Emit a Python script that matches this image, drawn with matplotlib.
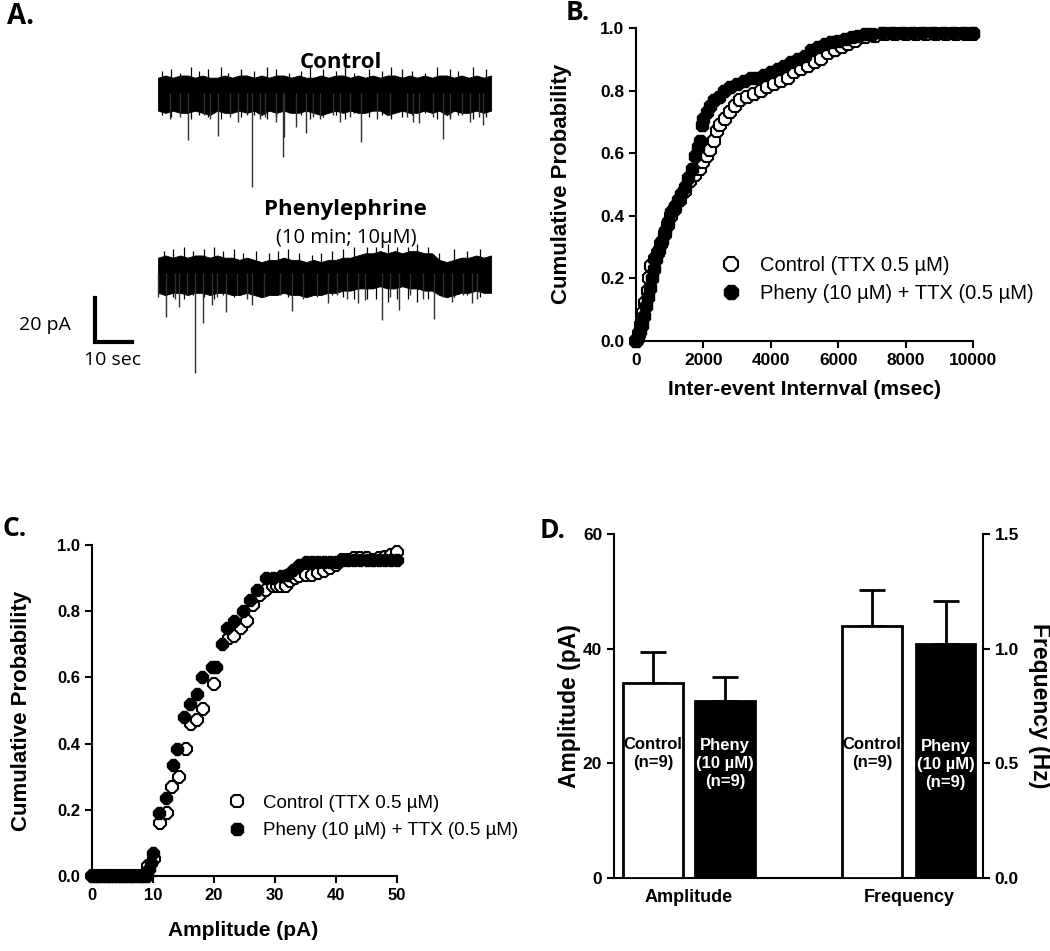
import numpy as np
import matplotlib
matplotlib.use("Agg")
import matplotlib.pyplot as plt
from matplotlib.lines import Line2D
from matplotlib.ticker import FormatStrFormatter

plt.rcParams['font.family'] = ['Liberation Sans', 'DejaVu Sans']
plt.rcParams['font.weight'] = 'bold'
plt.rcParams['axes.linewidth'] = 1.5

# ---- panel A: example traces (sec, pA) ----
env_step = 2.0
ctrl_top = [7, 8, 7, 8, 8, 7, 8, 7, 7, 8, 7, 8, 8, 7, 8, 7, 8, 8, 7, 8, 7, 7, 8,
            7, 8, 8, 7, 8, 7, 8, 7, 8, 8, 7, 8, 7, 8, 7, 8, 8, 7, 8, 7, 8, 7, 8]
ctrl_bot = [-8, -9, -8, -9, -9, -8, -9, -10, -8, -9, -9, -8, -9, -8, -10, -8, -9, -8, -9, -9,
            -8, -9, -10, -9, -8, -9, -8, -9, -9, -8, -8, -10, -9, -8, -9, -9, -8, -9, -8, -10,
            -8, -9, -9, -8, -9, -8]
pheny_top = [7, 8, 7, 8, 7, 8, 8, 7, 8, 7, 7, 6, 7, 6, 5, 6, 6, 7, 6, 6, 5, 6, 5,
             6, 6, 7, 7, 8, 9, 9, 10, 9, 10, 9, 10, 10, 9, 9, 6, 5, 6, 7, 7, 8, 7, 8]
pheny_bot = [-9, -10, -9, -9, -10, -9, -9, -10, -9, -9, -10, -10, -9, -10, -11, -10, -10, -9,
             -10, -10, -11, -10, -10, -9, -9, -8, -8, -7, -7, -7, -6, -7, -7, -6, -7, -7, -8,
             -8, -10, -11, -10, -9, -9, -8, -9, -9]

# noise hairs (time, half-height)
ctrl_hair_t = [1, 3.5, 6, 9, 11, 13.5, 17, 19, 22.5, 26, 29.5, 32, 35.5, 38.5, 41, 44.5, 48,
               50.5, 53, 57, 60.5, 63, 66, 68.5, 72, 75.5, 79, 81, 85, 88.5]
ctrl_hair_h = [10, 11, 9, 12, 10, 11, 12, 9, 11, 10, 12, 11, 9, 10, 12, 11, 10, 12, 9, 11,
               10, 12, 11, 10, 9, 12, 11, 10, 12, 11]
pheny_hair_t = [1.5, 4, 7, 9.5, 12.5, 15, 17.5, 20.5, 23, 26.5, 30, 32.5, 35, 38, 41.5, 44,
                47, 50, 53, 56.5, 59, 62, 64.5, 67.5, 70, 73, 76, 80, 83.5, 87]
pheny_hair_h = [10, 11, 12, 10, 11, 12, 10, 11, 9, 10, 9, 10, 11, 9, 8, 9, 10, 11, 12, 12,
                12, 13, 12, 12, 13, 12, 9, 11, 10, 11]

ctrl_ev_t = [3.2, 5.9, 8.0, 12.3, 14.1, 16.2, 19.5, 21.7, 24.0, 25.3, 27.6, 28.9, 31.9, 33.7,
             34.1, 37.3, 40.0, 42.0, 43.8, 47.4, 49.2, 51.9, 54.8, 59.1, 62.7, 67.2, 69.0,
             70.5, 74.4, 76.9, 78.9, 82.1, 84.3, 86.6, 87.8]
ctrl_ev_amp = [12, 11, 21.4, 10, 12, 19.5, 11, 13, 10, 42.6, 12, 11, 13, 29.1,
               19.9, 15.3, 18.2, 11, 12, 10, 13, 11, 22.1, 12, 10, 11, 13,
               13.6, 11, 20.9, 12, 10, 13, 11, 14.5]
pheny_ev_t = [0.1, 2.1, 4.6, 5.7, 7.8, 10.0, 12.2, 14.5, 15.9, 18.4, 21.3, 24.0, 25.3, 28.5,
              33.0, 36.1, 39.3, 42.9, 46.0, 48.3, 51.0, 53.9, 55.9, 60.5, 62.7, 65.2, 68.1,
              71.7, 74.6, 77.1, 79.4, 82.5, 84.8, 86.1]
pheny_ev_amp = [11, 19.9, 12, 15.3, 10, 45.5, 22.7, 14.5, 11, 17.6, 10, 12, 14.5, 11,
                10, 17.3, 12, 11, 13.8, 10, 12, 13.5, 12.3, 21.4, 11, 16.8, 10,
                12, 20.9, 11, 13, 10, 13.8, 12]
pheny_offset = -81.8

# ---- panel B: inter-event interval cumulative (msec, prob) ----
b_ctrl_x = [0, 80, 150, 220, 280, 350, 400, 450, 550, 650, 750, 850, 950, 1050, 1150, 1300,
            1450, 1600, 1750, 1900, 2000, 2100, 2200, 2300, 2400, 2500, 2650, 2800, 2950, 3100,
            3300, 3500, 3700, 3900, 4100, 4300, 4500, 4700, 4900, 5100, 5300, 5500, 5700, 5900,
            6100, 6300, 6500, 6800, 7100, 7400, 7700, 8000, 8300, 8600, 8900, 9200, 9500, 9800,
            10000]
b_ctrl_y = [0.0, 0.02, 0.05, 0.09, 0.12, 0.16, 0.20, 0.24, 0.26, 0.28, 0.31, 0.34, 0.37, 0.40,
            0.42, 0.45, 0.48, 0.51, 0.53, 0.55, 0.57, 0.59, 0.61, 0.64, 0.67, 0.69, 0.71, 0.73,
            0.75, 0.77, 0.78, 0.79, 0.80, 0.81, 0.82, 0.83, 0.84, 0.86, 0.87, 0.88, 0.89, 0.90,
            0.92, 0.93, 0.94, 0.95, 0.96, 0.97, 0.975, 0.98, 0.98, 0.98, 0.98, 0.98, 0.98, 0.98,
            0.98, 0.98, 0.98]
b_pheny_x = [0, 60, 120, 180, 240, 300, 350, 420, 480, 540, 600, 680, 760, 850, 950, 1050,
             1150, 1250, 1350, 1450, 1550, 1650, 1750, 1850, 1900, 1950, 2000, 2100, 2200, 2300,
             2450, 2600, 2800, 3000, 3200, 3400, 3600, 3800, 4000, 4200, 4400, 4600, 4800, 5000,
             5200, 5400, 5600, 5800, 6000, 6200, 6400, 6600, 6800, 7000, 7300, 7600, 7900, 8200,
             8500, 8800, 9100, 9400, 9700, 10000]
b_pheny_y = [0.0, 0.01, 0.03, 0.05, 0.08, 0.11, 0.14, 0.17, 0.20, 0.23, 0.26, 0.29, 0.32, 0.35,
             0.38, 0.41, 0.43, 0.45, 0.47, 0.49, 0.52, 0.55, 0.59, 0.62, 0.64, 0.69, 0.71, 0.73,
             0.75, 0.77, 0.78, 0.80, 0.81, 0.82, 0.83, 0.84, 0.84, 0.85, 0.86, 0.87, 0.88, 0.89,
             0.90, 0.91, 0.93, 0.94, 0.95, 0.955, 0.96, 0.965, 0.97, 0.975, 0.98, 0.98, 0.985,
             0.985, 0.985, 0.985, 0.985, 0.985, 0.985, 0.985, 0.985, 0.985]

# ---- panel C: amplitude cumulative (pA, prob) ----
c_ctrl_x = [0, 0.6, 1.2, 1.8, 2.4, 3.0, 3.6, 4.2, 4.8, 5.4, 6.0, 6.6, 7.2, 7.8, 8.4, 9.0, 9.2,
            10.1, 11.1, 12.3, 13.1, 14.2, 15.4, 16.2, 17.2, 18.2, 20.0, 22.4, 23.2, 24.5, 25.4,
            26.4, 27.5, 28.6, 29.7, 30.3, 31.0, 31.8, 32.5, 33.3, 34.0, 35.0, 36.0, 37.0, 38.0,
            39.0, 40.0, 41.0, 42.0, 43.0, 44.0, 45.0, 46.0, 47.0, 48.0, 49.0, 50.0]
c_ctrl_y = [0, 0, 0, 0, 0, 0, 0, 0, 0, 0, 0, 0, 0, 0, 0, 0.01, 0.03,
            0.05, 0.16, 0.19, 0.27, 0.30, 0.385, 0.46, 0.47, 0.505, 0.58, 0.72, 0.725, 0.75, 0.77,
            0.82, 0.85, 0.865, 0.875, 0.875, 0.875, 0.875, 0.89, 0.90, 0.905, 0.91, 0.91, 0.915,
            0.92, 0.93, 0.94, 0.955, 0.955, 0.96, 0.96, 0.96, 0.955, 0.96, 0.965, 0.97, 0.98]
c_pheny_x = [0, 0.6, 1.2, 1.8, 2.4, 3.0, 3.6, 4.2, 4.8, 5.4, 6.0, 6.6, 7.2, 7.8, 8.4, 9.0, 9.3,
             9.7, 10.05, 11.0, 12.2, 13.2, 14.0, 15.0, 16.1, 17.2, 18.0, 19.6, 20.4, 21.3, 22.1,
             23.2, 24.8, 25.9, 27.0, 28.6, 29.7, 31.0, 32.0, 33.0, 34.0, 35.0, 36.0, 37.0, 38.0,
             39.0, 40.0, 41.0, 42.0, 43.0, 44.0, 45.0, 46.0, 47.0, 48.0, 49.0, 50.0]
c_pheny_y = [0, 0, 0, 0, 0, 0, 0, 0, 0, 0, 0, 0, 0, 0, 0, 0, 0.02,
             0.04, 0.07, 0.19, 0.235, 0.335, 0.385, 0.48, 0.52, 0.55, 0.60, 0.63, 0.63, 0.70, 0.75,
             0.77, 0.80, 0.835, 0.865, 0.90, 0.90, 0.905, 0.91, 0.925, 0.94, 0.95, 0.95, 0.95, 0.95,
             0.95, 0.95, 0.955, 0.955, 0.955, 0.955, 0.955, 0.955, 0.955, 0.955, 0.955, 0.955]

# ---- panel D: bar summary ----
groups = ['Amplitude', 'Frequency']
amp_mean = [34.0, 30.9]
amp_sem = [5.4, 4.2]
freq_mean = [1.10, 1.02]
freq_sem = [0.155, 0.19]
bar_colors = ['white', 'black']
bar_labels = ['Control\n(n=9)', 'Pheny\n(10 \u00b5M)\n(n=9)']
label_colors = ['black', 'white']

legend_labels = ['Control (TTX 0.5 \u00b5M)', 'Pheny (10 \u00b5M) + TTX (0.5 \u00b5M)']

W, H = 1050, 951
fig = plt.figure(figsize=(W / 100, H / 100), dpi=100)


def px_axes(x0, y0, x1, y1):
    return fig.add_axes([x0 / W, 1 - y1 / H, (x1 - x0) / W, (y1 - y0) / H])


# ---------------- A ----------------
ax = px_axes(0, 0, 520, 400)
ax.set_xlim(-42.7, 97.8)
ax.set_ylim(-139.5, 42.3)
ax.axis('off')
t_env = np.arange(len(ctrl_top)) * env_step
ax.fill_between(t_env, ctrl_bot, ctrl_top, color='black', lw=0.6)
ax.vlines(ctrl_hair_t, -np.array(ctrl_hair_h), ctrl_hair_h, color='black', lw=0.9)
ax.vlines(ctrl_ev_t, 0, -np.array(ctrl_ev_amp), color='#303030', lw=1.0)
ax.fill_between(t_env, np.array(pheny_bot) + pheny_offset, np.array(pheny_top) + pheny_offset,
                color='black', lw=0.6)
ph = np.array(pheny_hair_h)
ax.vlines(pheny_hair_t, pheny_offset - ph, pheny_offset + ph, color='black', lw=0.9)
ax.vlines(pheny_ev_t, pheny_offset, pheny_offset - np.array(pheny_ev_amp), color='#303030', lw=1.0)
tfam = ['Open Sans', 'DejaVu Sans']
ax.text(49.5, 14.1, 'Control', ha='center', va='center', fontsize=16, fontweight='bold', family=tfam)
ax.text(50.5, -52.7, 'Phenylephrine', ha='center', va='center', fontsize=16, fontweight='bold', family=tfam)
ax.text(51, -65.9, '(10 min; 10\u00b5M)', ha='center', va='center', fontsize=14.5, fontweight='normal', family=tfam)
# scale bar: 20 pA x 10 sec
ax.plot([-17, -17, -7], [-93.2, -113.2, -113.2], color='black', lw=3, solid_joinstyle='miter')
ax.text(-30.5, -105.5, '20 pA', ha='center', va='center', fontsize=14, fontweight='normal', family=tfam)
ax.text(-12.2, -121.4, '10 sec', ha='center', va='center', fontsize=14, fontweight='normal', family=tfam)


def style_cum(ax):
    for s in ['top', 'right']:
        ax.spines[s].set_visible(False)
    ax.tick_params(direction='out', length=5, width=1.5, labelsize=12.5)
    ax.yaxis.set_major_formatter(FormatStrFormatter('%.1f'))


ctrl_style = dict(marker='8', ls='none', mfc='white', mec='black', mew=1.5, color='black', clip_on=False)
pheny_style = dict(marker='8', ls='none', mfc='black', mec='black', color='black', clip_on=False)

# ---------------- B ----------------
axb = px_axes(636, 28, 973, 340.7)
axb.plot(b_ctrl_x, b_ctrl_y, ms=10, **ctrl_style)
axb.plot(b_pheny_x, b_pheny_y, ms=10, **pheny_style)
axb.set_xlim(0, 10000)
axb.set_ylim(0, 1.0)
axb.set_xticks(range(0, 10001, 2000))
axb.set_yticks(np.arange(0, 1.01, 0.2))
style_cum(axb)
axb.set_xlabel('Inter-event Internval (msec)', fontsize=15, fontweight='bold')
axb.xaxis.set_label_coords(0.5, -0.125)
axb.set_ylabel('Cumulative Probability', fontsize=16, fontweight='bold')
axb.yaxis.set_label_coords(-0.19, 0.5)
hb = [Line2D([], [], ms=11, **ctrl_style), Line2D([], [], ms=11, **pheny_style)]
axb.legend(hb, legend_labels, loc='upper left', bbox_to_anchor=(0.252, 0.272), frameon=False,
           prop={'size': 14.5, 'weight': 'normal'}, handlelength=1.0, handletextpad=0.95,
           labelspacing=0.45, borderpad=0, borderaxespad=0)

# ---------------- C ----------------
axc = px_axes(92, 545, 397, 876)
axc.plot(c_ctrl_x, c_ctrl_y, ms=9, **ctrl_style)
axc.plot(c_pheny_x, c_pheny_y, ms=9, **pheny_style)
axc.set_xlim(0, 50)
axc.set_ylim(0, 1.0)
axc.set_xticks(range(0, 51, 10))
axc.set_yticks(np.arange(0, 1.01, 0.2))
style_cum(axc)
axc.tick_params(labelsize=12)
axc.set_xlabel('Amplitude (pA)', fontsize=15, fontweight='bold')
axc.xaxis.set_label_coords(0.495, -0.135)
axc.set_ylabel('Cumulative Probability', fontsize=16, fontweight='bold')
axc.yaxis.set_label_coords(-0.197, 0.5)
hc = [Line2D([], [], ms=10, **ctrl_style), Line2D([], [], ms=10, **pheny_style)]
axc.legend(hc, legend_labels, loc='upper left', bbox_to_anchor=(0.445, 0.245), frameon=False,
           prop={'size': 13.5, 'weight': 'normal'}, handlelength=1.0, handletextpad=0.88,
           labelspacing=0.55, borderpad=0, borderaxespad=0)

# ---------------- D ----------------
axd = px_axes(614, 534, 983, 878)
axd2 = axd.twinx()
amp_x = [0, 1]
freq_x = [3.04, 4.06]
bw = 0.83
axd.bar(amp_x, amp_mean, width=bw, color=bar_colors, edgecolor='black', lw=2, zorder=3)
axd.errorbar(amp_x, amp_mean, yerr=[[0, 0], amp_sem], fmt='none', ecolor='black',
             elinewidth=2, capsize=9.5, capthick=2, zorder=2)
axd2.bar(freq_x, freq_mean, width=bw, color=bar_colors, edgecolor='black', lw=2, zorder=3)
axd2.errorbar(freq_x, freq_mean, yerr=[[0, 0], freq_sem], fmt='none', ecolor='black',
              elinewidth=2, capsize=9.5, capthick=2, zorder=2)
nfam = ['Liberation Sans Narrow', 'Liberation Sans']
for i in range(2):
    axd.text(amp_x[i], [21.8, 19.9][i], bar_labels[i], ha='center', va='center', color=label_colors[i],
             fontsize=12, fontweight='bold', family=nfam, linespacing=1.25, zorder=4)
    axd2.text(freq_x[i], [0.545, 0.497][i], bar_labels[i], ha='center', va='center', color=label_colors[i],
              fontsize=12, fontweight='bold', family=nfam, linespacing=1.25, zorder=4)
axd.set_xlim(-0.54, 4.58)
axd.set_ylim(0, 60)
axd2.set_ylim(0, 1.5)
axd.set_yticks([0, 20, 40, 60])
axd2.set_yticks([0, 0.5, 1.0, 1.5])
axd2.yaxis.set_major_formatter(FormatStrFormatter('%.1f'))
axd.set_xticks([(amp_x[0] + amp_x[1]) / 2, (freq_x[0] + freq_x[1]) / 2])
axd.set_xticklabels(groups, fontsize=13)
axd.tick_params(axis='x', length=0, pad=8)
axd.tick_params(axis='y', direction='out', length=5, width=1.5, labelsize=12.5)
axd2.tick_params(axis='y', direction='out', length=5, width=1.5, labelsize=12.5)
axd.spines['top'].set_visible(False)
axd.spines['right'].set_visible(False)
for s in ['top', 'left', 'bottom']:
    axd2.spines[s].set_visible(False)
axd.set_ylabel('Amplitude (pA)', fontsize=16.5, fontweight='bold')
axd.yaxis.set_label_coords(-0.09, 0.5)
axd2.set_ylabel('Frequency (Hz)', fontsize=16.5, fontweight='bold', rotation=270, va='center')
axd2.yaxis.set_label_coords(1.154, 0.5)

# panel letters
lfam = ['Open Sans', 'DejaVu Sans']
fig.text(7 / W, 1 - 17 / H, 'A.', fontsize=20, fontweight='bold', family=lfam, ha='left', va='center')
fig.text(566 / W, 1 - 13 / H, 'B.', fontsize=19, fontweight='bold', family=lfam, ha='left', va='center')
fig.text(2 / W, 1 - 529 / H, 'C.', fontsize=19, fontweight='bold', family=lfam, ha='left', va='center')
fig.text(540 / W, 1 - 530 / H, 'D.', fontsize=19, fontweight='bold', family=lfam, ha='left', va='center')

fig.savefig('out.png', dpi=100)
